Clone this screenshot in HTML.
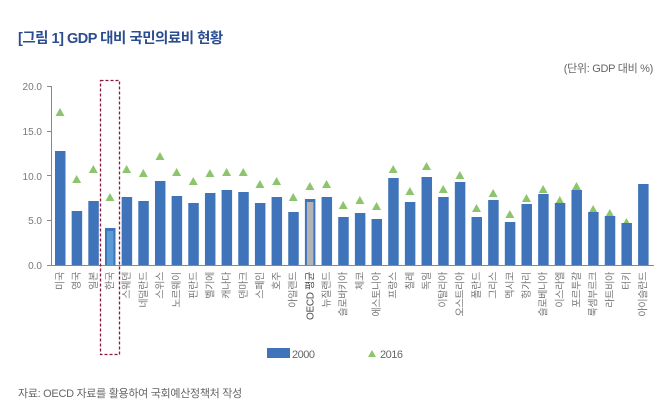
<!DOCTYPE html>
<html><head><meta charset="utf-8"><style>
body{margin:0;background:#fff;}
svg{display:block;font-family:"Liberation Sans","Noto Sans CJK KR",sans-serif;}
</style></head><body>
<svg id="c" width="670" height="415" viewBox="0 0 670 415" xmlns="http://www.w3.org/2000/svg">
<text x="18" y="43" font-size="14.5" fill="#2b4d8f" font-weight="bold" letter-spacing="-0.5">[그림 1] GDP 대비 국민의료비 현황</text>
<text x="653" y="72" font-size="11" fill="#666" text-anchor="end" letter-spacing="-0.3">(단위: GDP 대비 %)</text>
<g font-size="10" fill="#777" text-anchor="end">
<text x="42" y="90">20.0</text><text x="42" y="135">15.0</text><text x="42" y="180">10.0</text><text x="42" y="224">5.0</text><text x="42" y="269">0.0</text>
</g>
<g stroke="#888" stroke-width="1">
<line x1="51.5" y1="86" x2="51.5" y2="265"/>
<line x1="47" y1="86.5" x2="51" y2="86.5"/><line x1="47" y1="131.5" x2="51" y2="131.5"/><line x1="47" y1="175.5" x2="51" y2="175.5"/><line x1="47" y1="220.5" x2="51" y2="220.5"/>
<line x1="47" y1="265.5" x2="654" y2="265.5"/>
</g>
<g id="bars"></g>
<rect x="100.5" y="80.5" width="19" height="274" fill="none" stroke="#8b1a3a" stroke-width="1.3" stroke-dasharray="3,2"/>
<rect x="267" y="348" width="23" height="10" fill="#3f74ba"/>
<text x="292" y="358" font-size="11" fill="#666" letter-spacing="-0.5">2000</text>
<polygon points="368,357 376,357 372,350" fill="#8dc56c"/>
<text x="380" y="358" font-size="11" fill="#666" letter-spacing="-0.5">2016</text>
<text x="18" y="397" font-size="11" fill="#666" letter-spacing="-0.3">자료: OECD 자료를 활용하여 국회예산정책처 작성</text>
</svg>
<script>
var d=[["미국",151,112],["영국",211,179],["일본",201,169],["한국",228,197],["스웨덴",197,169],["네덜란드",201,173],["스위스",181,156],["노르웨이",196,172],["핀란드",203,181],["벨기에",193,173],["캐나다",190,172],["덴마크",192,172],["스페인",203,184],["호주",197,181],["아일랜드",212,197],["OECD 평균",199,186],["뉴질랜드",197,184],["슬로바키아",217,205],["체코",213,200],["에스토니아",219,206],["프랑스",178,169],["칠레",202,191],["독일",177,166],["이탈리아",197,189],["오스트리아",182,175],["폴란드",217,208],["그리스",200,193],["멕시코",222,214],["헝가리",204,198],["슬로베니아",194,189],["이스라엘",203,200],["포르투갈",190,186],["룩셈부르크",212,209],["라트비아",216,213],["터키",223,222],["아이슬란드",184,183]];
var g=document.getElementById('bars'),h="";
d.forEach(function(r,i){var x=60+i*16.66;
if(i!=35)h+='<polygon points="'+(x-4.5)+','+(r[2]+4)+' '+(x+4.5)+','+(r[2]+4)+' '+x+','+(r[2]-4)+'" fill="#8dc56c"/>';
h+='<rect x="'+(x-5)+'" y="'+r[1]+'" width="10.5" height="'+(265-r[1])+'" fill="#3f74ba"/>';
if(i==15)h+='<rect x="'+(x-3)+'" y="'+(r[1]+3)+'" width="6.5" height="'+(262-r[1])+'" fill="#b4b4b4"/>';
if(i==3)h+='<rect x="'+(x-3)+'" y="'+(r[1]+3)+'" width="6.5" height="'+(262-r[1])+'" fill="#5a9bd3"/>';
h+='<text transform="translate('+(x+3.5)+',272) rotate(-90)" font-size="10" fill="'+(i==15?'#444':'#777')+'" text-anchor="end" letter-spacing="-0.3">'+r[0]+'</text>';});
g.innerHTML=h;
</script>
</body></html>
